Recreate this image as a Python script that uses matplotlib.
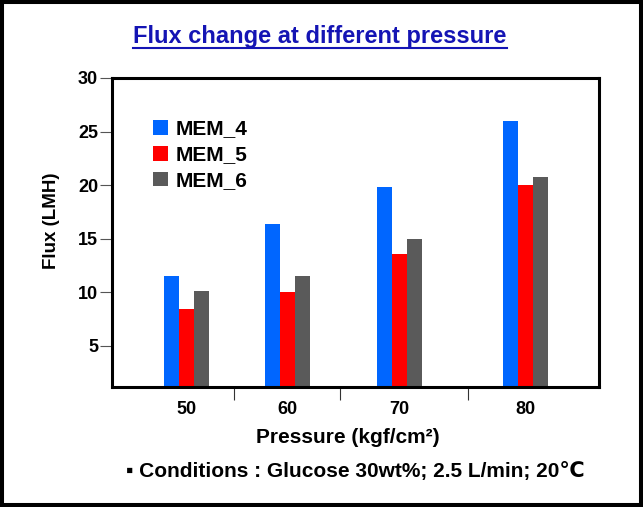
import matplotlib
matplotlib.use("Agg")
import matplotlib.pyplot as plt
from matplotlib import font_manager
from matplotlib.patches import Rectangle
from matplotlib.lines import Line2D

# ---- data ----
pressures = ["50", "60", "70", "80"]
mem4 = [11.5, 16.4, 19.8, 26.0]
mem5 = [8.4, 10.0, 13.6, 20.0]
mem6 = [10.1, 11.5, 15.0, 20.8]
series_names = ["MEM_4", "MEM_5", "MEM_6"]
yticks = [5, 10, 15, 20, 25, 30]

# ---- layout (group centres are irregular in the reference) ----
group_pos = [0.0, 1.0, 2.11, 3.36]
separators = [0.47, 1.52, 2.79]
bar_w = 0.148
colors = ["#0066FF", "#FF0000", "#5A5A5A"]

plt.rcParams['font.family'] = ['Liberation Sans', 'DejaVu Sans']
plt.rcParams['font.weight'] = 'bold'

names = {f.name for f in font_manager.fontManager.ttflist}
title_family = ['Liberation Sans Narrow', 'Liberation Sans'] if 'Liberation Sans Narrow' in names else ['Liberation Sans']

fig = plt.figure(figsize=(6.43, 5.07), dpi=100)
ax = fig.add_axes([112/643, 1 - 387/507, (599-112)/643, (387-78)/507])

for i, (vals, c, nm) in enumerate(zip([mem4, mem5, mem6], colors, series_names)):
    xs = [p + (i - 1) * bar_w for p in group_pos]
    ax.bar(xs, vals, width=bar_w, color=c, label=nm, zorder=2)

ax.set_xlim(-0.738, 4.084)
ax.set_ylim(1.15, 30)
ax.set_yticks(yticks)
ax.set_yticklabels([str(t) for t in yticks], fontsize=13, fontweight='bold')
ax.set_xticks(group_pos)
ax.set_xticklabels(pressures, fontsize=13, fontweight='bold')
ax.set_xticks(separators, minor=True)
ax.tick_params(axis='x', which='major', length=0, pad=10)
ax.tick_params(axis='x', which='minor', length=9, width=0.8, color='#333333', direction='out')
ax.tick_params(axis='y', which='major', length=9, width=0.8, color='#555555', pad=1)

for s in ax.spines.values():
    s.set_linewidth(2.2)
    s.set_color('black')

ax.set_xlabel("Pressure (kgf/cm²)", fontsize=15, fontweight='bold')
ax.xaxis.label.set_va('baseline')
ax.xaxis.set_label_coords((348-112)/487, (387-443)/309)
ax.set_ylabel("Flux (LMH)", fontsize=13.5, fontweight='bold')
ax.yaxis.label.set_va('center')
ax.yaxis.set_label_coords((51-112)/487, (387-221)/309)

leg = ax.legend(loc='upper left', bbox_to_anchor=((153-112)/487, (387-119.5)/309),
                frameon=False, fontsize=15, handlelength=0.72, handleheight=0.72,
                handletextpad=0.38, labelspacing=0.33, borderpad=0, borderaxespad=0)
for t in leg.get_texts():
    t.set_fontweight('bold')

# title with underline
title = fig.text(320/643, 1 - 43/507, "Flux change at different pressure",
                 ha='center', va='baseline', fontsize=17, fontweight='bold',
                 color='#1414B4', family=title_family)

fig.text(126/643, 1 - 476.7/507, "▪ Conditions : Glucose 30wt%; 2.5 L/min; 20℃",
         ha='left', va='baseline', fontsize=15, fontweight='bold',
         family=['Liberation Sans', 'DejaVu Sans'])

# outer border
fig.patches.append(Rectangle((0, 0), 1, 1, transform=fig.transFigure, fill=False,
                             edgecolor='black', linewidth=5.8, zorder=10))

fig.canvas.draw()
r = fig.canvas.get_renderer()
bb = title.get_window_extent(r)
uy = (507 - 48) / 507
fig.add_artist(Line2D([bb.x0 / 643, bb.x1 / 643], [uy, uy], transform=fig.transFigure,
                      color='#1414B4', linewidth=1.5))

fig.savefig("out.png", dpi=100)
